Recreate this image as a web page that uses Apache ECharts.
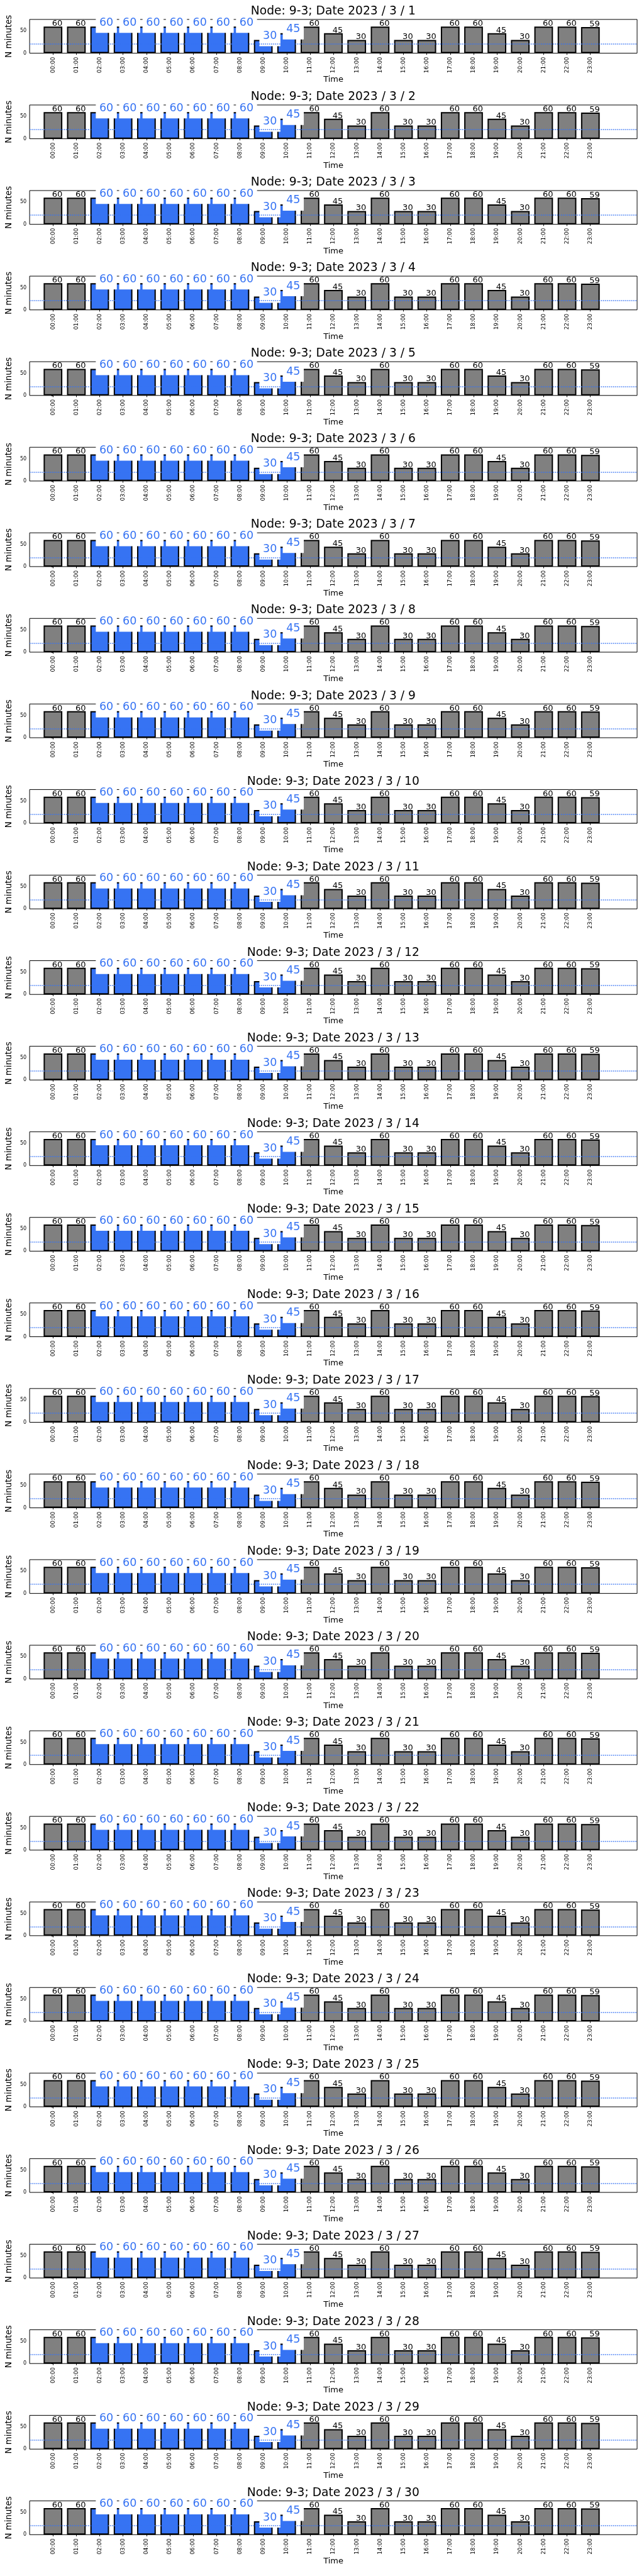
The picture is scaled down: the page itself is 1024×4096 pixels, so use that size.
<!DOCTYPE html>
<html>
<head>
<meta charset="utf-8">
<script src="https://cdn.jsdelivr.net/npm/echarts@6/dist/echarts.min.js"></script>
<style>
html,body{margin:0;padding:0;background:#fff;}
#c{width:1024px;height:4096px;}
</style>
</head>
<body>
<div id="c"></div>
<script>
// ---- data ----
const node = '9-3';
const year = 2023;
const month = 3;
const days = [1,2,3,4,5,6,7,8,9,10,11,12,13,14,15,16,17,18,19,20,21,22,23,24,25,26,27,28,29,30];
const hours = ['00:00','01:00','02:00','03:00','04:00','05:00','06:00','07:00','08:00','09:00','10:00','11:00',
               '12:00','13:00','14:00','15:00','16:00','17:00','18:00','19:00','20:00','21:00','22:00','23:00'];
const minutes = [60,60,60,60,60,60,60,60,60,30,45,60,45,30,60,30,30,60,60,45,30,60,60,59];
const highlightHours = ['02:00','03:00','04:00','05:00','06:00','07:00','08:00','09:00','10:00'];
const refLineValue = 20.6;
const yTickValues = [0, 50];
const xLimits = [-1, 25];
const yLimits = [0, 76];

// ---- layout / style ----
const S = 0.682;
const FONT = 'DejaVu Sans';
const BLUE = '#3673F3';
const GRAY = '#808080';
const gridLeft = 68.4 * S;
const gridWidth = (1485.4 - 68.4) * S;
const gridTop0 = 45.3 * S;
const gridH = 78.7 * S;
const step = 199.5 * S;
const barW = 0.8 * gridWidth / (xLimits[1] - xLimits[0]);

const grids = [], xAxes = [], yAxes = [], series = [], graphics = [];
const hourIdx = hours.map((h, k) => k);

days.forEach((d, i) => {
  const top = gridTop0 + step * i;
  grids.push({left: gridLeft, top: top, width: gridWidth, height: gridH,
    show: true, borderColor: '#000', borderWidth: 1, backgroundColor: 'rgba(0,0,0,0)'});
  xAxes.push({
    type: 'value', gridIndex: i, min: xLimits[0], max: xLimits[1], interval: 1,
    axisLine: {show: false}, splitLine: {show: false},
    axisTick: {show: true, length: 2.6, lineStyle: {color: '#000', width: 1}, customValues: hourIdx},
    axisLabel: {show: true, customValues: hourIdx, formatter: v => hours[v], rotate: 90,
      fontSize: 8.9, color: '#000', fontFamily: FONT, margin: 6},
    name: 'Time', nameLocation: 'middle', nameGap: 36,
    nameTextStyle: {fontSize: 13, color: '#000', fontFamily: FONT}
  });
  yAxes.push({
    type: 'value', gridIndex: i, min: yLimits[0], max: yLimits[1],
    axisLine: {show: false}, splitLine: {show: false},
    axisTick: {show: true, length: 2.6, lineStyle: {color: '#000', width: 1}, customValues: yTickValues},
    axisLabel: {show: true, rotate: 0, customValues: yTickValues, fontSize: 8, color: '#000', fontFamily: FONT, margin: 5},
    name: 'N minutes', nameLocation: 'middle', nameGap: 22,
    nameTextStyle: {fontSize: 13.3, color: '#000', fontFamily: FONT}
  });
  series.push({
    type: 'bar', xAxisIndex: i, yAxisIndex: i, barWidth: barW, animation: false,
    itemStyle: {borderColor: '#000', borderWidth: 2},
    data: hours.map((h, k) => {
      const hi = highlightHours.indexOf(h) >= 0;
      return {
        value: [k, minutes[k]],
        itemStyle: {color: hi ? BLUE : GRAY},
        label: hi ? {
          show: true, position: ['50%', 0], align: 'left', verticalAlign: 'bottom',
          fontSize: 17.5, lineHeight: 18, fontFamily: FONT, color: BLUE,
          backgroundColor: '#fff', padding: [3, 5.6, 7, 5.6], offset: [-6.2, 10]
        } : {
          show: true, position: ['50%', 0], align: 'left', verticalAlign: 'bottom',
          fontSize: 13, lineHeight: 13, fontFamily: FONT, color: '#000', offset: [-1.4, 2]
        }
      };
    }),
    label: {show: true, formatter: p => String(p.value[1])},
    markLine: {
      silent: true, symbol: 'none', animation: false,
      label: {show: false},
      lineStyle: {color: BLUE, type: [1.6, 1.6], width: 1.7, opacity: 1},
      data: [{yAxis: refLineValue}]
    }
  });
  graphics.push({
    type: 'text', x: gridLeft + gridWidth / 2, y: 18.2 + step * i,
    style: {text: 'Node: ' + node + '; Date ' + year + ' / ' + month + ' / ' + d,
      font: '18.7px "DejaVu Sans"', fill: '#000',
      align: 'center', verticalAlign: 'middle', textAlign: 'center', textVerticalAlign: 'middle'}
  });
});

const chart = echarts.init(document.getElementById('c'), null, {renderer: 'canvas'});
chart.setOption({
  animation: false,
  backgroundColor: '#fff',
  grid: grids, xAxis: xAxes, yAxis: yAxes, series: series,
  graphic: graphics
});
</script>
</body>
</html>
